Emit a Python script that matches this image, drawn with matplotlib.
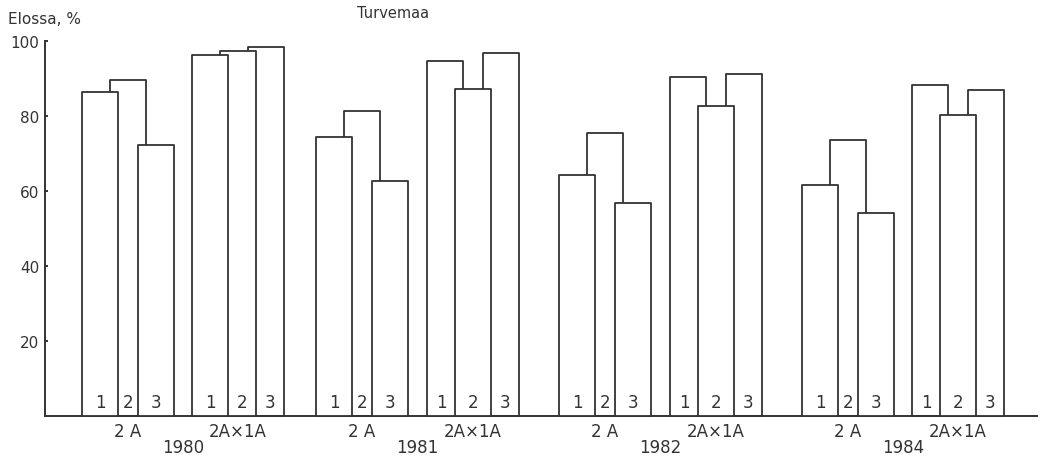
import matplotlib
matplotlib.use('Agg')
import matplotlib.pyplot as plt

# survival, % on peat soil (Turvemaa)
years = ['1980', '1981', '1982', '1984']
groups = ['2 A', '2A×1A']
bar_names = ['1', '2', '3']
values = {
    ('1980', '2 A'): [86.4, 89.6, 72.3],
    ('1980', '2A×1A'): [96.3, 97.3, 98.4],
    ('1981', '2 A'): [74.4, 81.3, 62.7],
    ('1981', '2A×1A'): [94.7, 87.2, 96.8],
    ('1982', '2 A'): [64.3, 75.5, 56.8],
    ('1982', '2A×1A'): [90.4, 82.7, 91.2],
    ('1984', '2 A'): [61.6, 73.6, 54.1],
    ('1984', '2A×1A'): [88.3, 80.3, 86.9],
}

# layout (pixel-like x units)
starts = [82, 192, 316, 427, 559, 670, 802, 912]
offs = [0, 28, 56]
w = 36
ink = '#333333'

fig = plt.figure(figsize=(10.4, 4.6), dpi=100)
ax = fig.add_axes([0, 0, 1, 1])
ax.set_xlim(0, 1040)
ax.set_ylim(-(460 - 417) / 3.75, 417 / 3.75)

ax.spines['top'].set_visible(False)
ax.spines['right'].set_visible(False)
ax.spines['left'].set_position(('data', 45))
ax.spines['left'].set_bounds(0, 100)
ax.spines['bottom'].set_position(('data', 0))
ax.spines['bottom'].set_bounds(45, 1037)
for s in ['left', 'bottom']:
    ax.spines[s].set_color(ink)
    ax.spines[s].set_linewidth(1.4)
ax.set_xticks([])
ax.set_yticks([20, 40, 60, 80, 100])
ax.tick_params(axis='y', direction='in', length=2, width=1.4, colors=ink,
               labelsize=11, pad=4)

i = 0
for yr in years:
    centers = []
    for g in groups:
        vals = values[(yr, g)]
        x0 = starts[i]
        lefts = [x0 + o for o in offs]
        # shorter bars sit in front
        order = sorted(range(3), key=lambda k: -vals[k])
        for rank, k in enumerate(order):
            ax.bar(lefts[k], vals[k], width=w, align='edge', bottom=0,
                   facecolor='white', edgecolor=ink, linewidth=1.3,
                   joinstyle='round', zorder=2 + rank)
        # visible part of each bar at the bottom
        seg1 = (lefts[0], lefts[1] if vals[1] < vals[0] else lefts[0] + w)
        if vals[1] < vals[0] and vals[1] < vals[2]:
            seg2 = (lefts[1], lefts[1] + w)
        else:
            seg2 = (lefts[0] + w if vals[0] < vals[1] else lefts[1],
                    lefts[2] if vals[2] < vals[1] else lefts[1] + w)
        seg3 = (lefts[1] + w if vals[1] < vals[2] else lefts[2], lefts[2] + w)
        for name, sg in zip(bar_names, [seg1, seg2, seg3]):
            ax.text((sg[0] + sg[1]) / 2, 1.2, name, ha='center', va='bottom',
                    fontsize=12, color=ink, zorder=10)
        c = x0 + (offs[2] + w) / 2
        centers.append(c)
        ax.text(c, -4.0, g, ha='center', va='center', fontsize=12, color=ink)
        i += 1
    ax.text(sum(centers) / 2, -8.4, yr, ha='center', va='center',
            fontsize=12, color=ink)

fig.text(8 / 1040, 1 - 19 / 460, 'Elossa, %', ha='left', va='center',
         fontsize=11, color=ink)
fig.text(357 / 1040, 1 - 14 / 460, 'Turvemaa', ha='left', va='center',
         fontsize=10.5, color=ink)

fig.savefig('out.png', dpi=100, facecolor='white')
